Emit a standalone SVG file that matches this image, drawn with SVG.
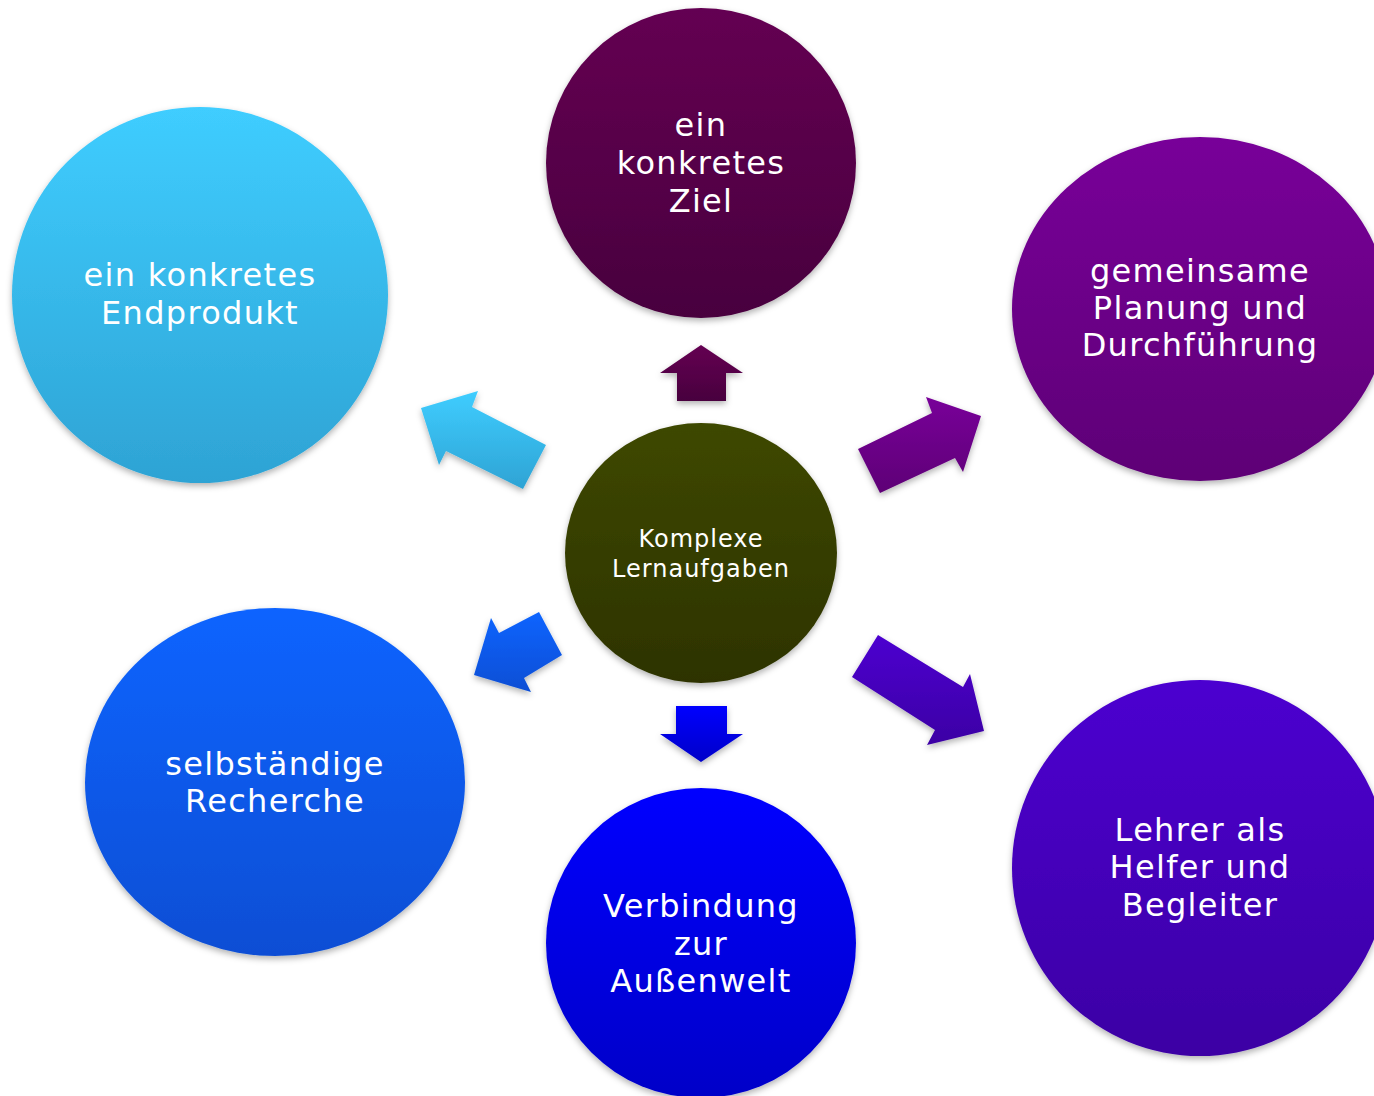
<svg xmlns="http://www.w3.org/2000/svg" width="1374" height="1096" viewBox="0 0 1374 1096">
<defs>
<linearGradient id="gCyan" x1="0" y1="0" x2="0" y2="1"><stop offset="0" stop-color="#3fcdff"/><stop offset="1" stop-color="#2ea3d4"/></linearGradient>
<linearGradient id="gPlum" x1="0" y1="0" x2="0" y2="1"><stop offset="0" stop-color="#640052"/><stop offset="1" stop-color="#48003e"/></linearGradient>
<linearGradient id="gViolet" x1="0" y1="0" x2="0" y2="1"><stop offset="0" stop-color="#780099"/><stop offset="1" stop-color="#5e0076"/></linearGradient>
<linearGradient id="gAzure" x1="0" y1="0" x2="0" y2="1"><stop offset="0" stop-color="#0c64ff"/><stop offset="1" stop-color="#0a4ed4"/></linearGradient>
<linearGradient id="gBlue" x1="0" y1="0" x2="0" y2="1"><stop offset="0" stop-color="#0000ff"/><stop offset="1" stop-color="#0000c8"/></linearGradient>
<linearGradient id="gIndigo" x1="0" y1="0" x2="0" y2="1"><stop offset="0" stop-color="#4c00d0"/><stop offset="1" stop-color="#3c00a4"/></linearGradient>
<linearGradient id="gOlive" x1="0" y1="0" x2="0" y2="1"><stop offset="0" stop-color="#3e4800"/><stop offset="1" stop-color="#2d3300"/></linearGradient>
<filter id="sh" x="-20%" y="-20%" width="140%" height="140%"><feDropShadow dx="0" dy="3" stdDeviation="3" flood-color="#000" flood-opacity="0.3"/></filter>
</defs>
<style>
text{font-family:"DejaVu Sans","Verdana",sans-serif;fill:#fff;text-anchor:middle}
.big{font-size:32px;letter-spacing:1.3px}
.small{font-size:24px;letter-spacing:1px}
.shape{filter:url(#sh)}
</style>
<g id="connectors">
<polygon class="shape" fill="url(#gPlum)" points="701,345 743,373 726,373 726,401 677,401 677,373 660,373"/>
<polygon class="shape" fill="url(#gBlue)" points="676,706 727,706 727,734 743,734 701,762 660,734 676,734"/>
<polygon class="shape" fill="url(#gCyan)" points="421,408 478,391 472,407 546,445 523,489 446,451 439,465"/>
<polygon class="shape" fill="url(#gViolet)" points="858,449 932,413 926,397 981,416 963,472 955,458 880,493"/>
<polygon class="shape" fill="url(#gAzure)" points="539,612 562,655 524,678 531,692 474,675 491,618 499,633"/>
<polygon class="shape" fill="url(#gIndigo)" points="878,635 963,687 970,674 984,731 927,745 935,730 852,677"/>
</g>
<g id="node-center">
<ellipse class="shape" cx="701" cy="553" rx="136" ry="130" fill="url(#gOlive)"/>
<text class="small" x="701" y="547">Komplexe</text>
<text class="small" x="701" y="577">Lernaufgaben</text>
</g>
<g id="node-ziel">
<circle class="shape" cx="701" cy="163" r="155" fill="url(#gPlum)"/>
<text class="big" x="701" y="136">ein</text>
<text class="big" x="701" y="174">konkretes</text>
<text class="big" x="701" y="212">Ziel</text>
</g>
<g id="node-endprodukt">
<circle class="shape" cx="200" cy="295" r="188" fill="url(#gCyan)"/>
<text class="big" x="200" y="286">ein konkretes</text>
<text class="big" x="200" y="324">Endprodukt</text>
</g>
<g id="node-planung">
<ellipse class="shape" cx="1200" cy="309" rx="188" ry="172" fill="url(#gViolet)"/>
<text class="big" x="1200" y="282">gemeinsame</text>
<text class="big" x="1200" y="319">Planung und</text>
<text class="big" x="1200" y="356">Durchführung</text>
</g>
<g id="node-recherche">
<ellipse class="shape" cx="275" cy="782" rx="190" ry="174" fill="url(#gAzure)"/>
<text class="big" x="275" y="775">selbständige</text>
<text class="big" x="275" y="812">Recherche</text>
</g>
<g id="node-aussenwelt">
<circle class="shape" cx="701" cy="943" r="155" fill="url(#gBlue)"/>
<text class="big" x="701" y="917">Verbindung</text>
<text class="big" x="701" y="955">zur</text>
<text class="big" x="701" y="992">Außenwelt</text>
</g>
<g id="node-lehrer">
<circle class="shape" cx="1200" cy="868" r="188" fill="url(#gIndigo)"/>
<text class="big" x="1200" y="841">Lehrer als</text>
<text class="big" x="1200" y="878">Helfer und</text>
<text class="big" x="1200" y="916">Begleiter</text>
</g>
</svg>
